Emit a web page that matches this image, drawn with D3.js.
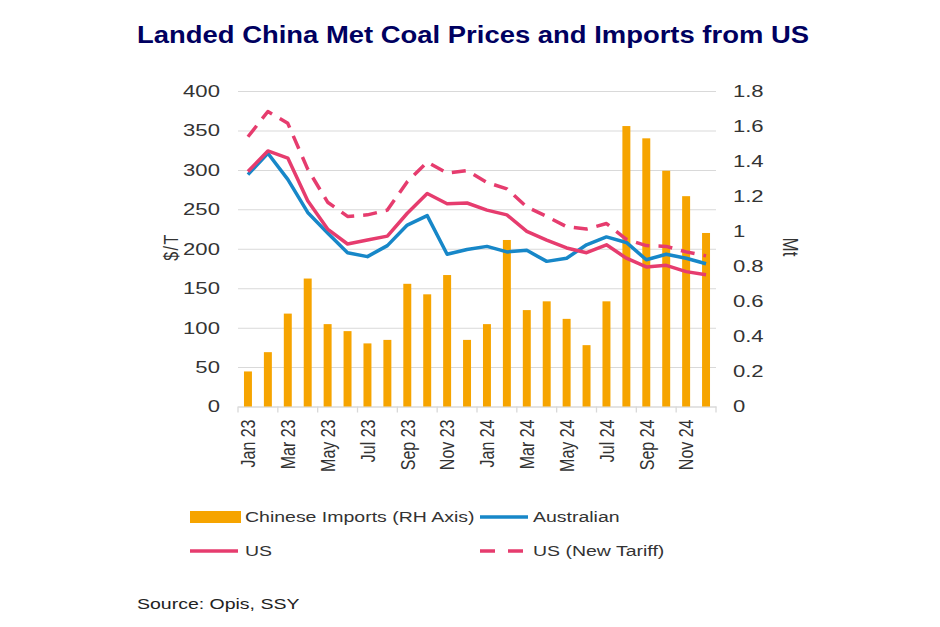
<!DOCTYPE html>
<html>
<head>
<meta charset="utf-8">
<script src="https://cdn.jsdelivr.net/npm/d3@7"></script>
<style>
  body { margin: 0; background: #fff; }
  svg { display: block; font-family: "Liberation Sans", Arial, sans-serif; }
</style>
</head>
<body>
<div id="chart"></div>
<script>
const months = ["Jan 23","Feb 23","Mar 23","Apr 23","May 23","Jun 23","Jul 23","Aug 23","Sep 23","Oct 23","Nov 23","Dec 23",
                "Jan 24","Feb 24","Mar 24","Apr 24","May 24","Jun 24","Jul 24","Aug 24","Sep 24","Oct 24","Nov 24","Dec 24"];
const imports    = [0.20,0.31,0.53,0.73,0.47,0.43,0.36,0.38,0.70,0.64,0.75,0.38,0.47,0.95,0.55,0.60,0.50,0.35,0.60,1.60,1.53,1.345,1.20,0.99];
const australian = [294,321,288,246,220,195,190,204,230,242,193,199,203,196,198,184,188,205,215,208,186,193,188,181];
const usPrice    = [298,324,315,261,225,206,211,216,245,270,257,258,249,243,222,211,201,195,205,188,177,179,171,167];
const usTariff   = [342,374,359,301,259,241,243,249,285,310,296,299,284,276,253,241,228,225,232,212,204,203,196,191];
const leftTicks  = [0,50,100,150,200,250,300,350,400];
const rightTicks = [0,0.2,0.4,0.6,0.8,1,1.2,1.4,1.6,1.8];

const ORANGE = "#f6a400", BLUE = "#1787c8", PINK = "#e63c6e", GRID = "#d9d9d9";

// the source picture is stretched sideways, so draw in a narrower box and stretch it
const SX = 1.3;
const width = 940, height = 627;
const vw = width / SX;

const x0 = 238 / SX, x1 = 716 / SX;
const yBase = 406.5, yTop = 91;

const svg = d3.select("#chart").append("svg")
  .attr("width", width)
  .attr("height", height)
  .attr("viewBox", `0 0 ${vw} ${height}`)
  .attr("preserveAspectRatio", "none");

const x = d3.scaleBand()
  .domain(months)
  .range([x0, x1])
  .paddingInner(0.6)
  .paddingOuter(0.3);

const yL = d3.scaleLinear().domain([0, 400]).range([yBase, yTop]);
const yR = d3.scaleLinear().domain([0, 1.8]).range([yBase, yTop]);

// title
svg.append("text")
  .attr("x", 473 / SX)
  .attr("y", 43)
  .attr("text-anchor", "middle")
  .attr("textLength", 672 / SX)
  .attr("lengthAdjust", "spacingAndGlyphs")
  .style("font-size", "24px")
  .style("font-weight", "bold")
  .style("fill", "#000060")
  .text("Landed China Met Coal Prices and Imports from US");

// left axis + gridlines
svg.append("g")
  .attr("transform", `translate(${x0},0)`)
  .call(d3.axisLeft(yL).tickValues(leftTicks).tickSize(-(x1 - x0)).tickPadding(13.9))
  .attr("font-family", null)
  .attr("font-size", 17)
  .call(g => g.select(".domain").remove())
  .call(g => g.selectAll(".tick line").attr("stroke", GRID))
  .call(g => g.selectAll(".tick text").attr("fill", "#333"));

// right axis
svg.append("g")
  .attr("transform", `translate(${x1},0)`)
  .call(d3.axisRight(yR).tickValues(rightTicks).tickSize(0).tickPadding(13)
    .tickFormat(d => String(+d.toFixed(1))))
  .attr("font-family", null)
  .attr("font-size", 17)
  .call(g => g.select(".domain").remove())
  .call(g => g.selectAll(".tick text").attr("fill", "#333"));

// bottom axis
svg.append("g")
  .attr("transform", `translate(0,${yBase})`)
  .call(d3.axisBottom(x).tickValues(months.filter((d, i) => i % 2 === 0)).tickSize(0).tickPadding(0))
  .attr("font-family", null)
  .attr("font-size", 16)
  .call(g => g.select(".domain").attr("stroke", GRID))
  .call(g => g.selectAll(".tick text")
    .attr("fill", "#333")
    .attr("transform", "rotate(-90)")
    .attr("text-anchor", "end")
    .attr("x", -13)
    .attr("y", 0)
    .attr("dy", "0.35em"));

const edges = months.filter((d, i) => i % 2 === 0)
  .map(d => x(d) + x.bandwidth() / 2 - x.step() / 2)
  .concat([x.range()[1]]);

svg.append("g").selectAll("line")
  .data(edges)
  .enter()
  .append("line")
  .attr("x1", d => d).attr("x2", d => d)
  .attr("y1", yBase).attr("y2", yBase + 6)
  .attr("stroke", GRID)
  .attr("stroke-width", 1.3)
  .attr("vector-effect", "non-scaling-stroke");

// axis titles
svg.append("text")
  .attr("transform", `translate(${171 / SX},247) rotate(-90)`)
  .attr("text-anchor", "middle")
  .attr("dy", "0.35em")
  .style("font-size", "16px")
  .style("letter-spacing", "1.5px")
  .style("fill", "#333")
  .text("$/T");

svg.append("text")
  .attr("transform", `translate(${791 / SX},247) rotate(90)`)
  .attr("text-anchor", "middle")
  .attr("dy", "0.35em")
  .style("font-size", "17px")
  .style("fill", "#333")
  .text("Mt");

// bars (RH axis)
svg.append("g").selectAll("rect")
  .data(imports)
  .enter()
  .append("rect")
  .attr("x", (d, i) => x(months[i]))
  .attr("y", d => yR(d))
  .attr("width", x.bandwidth())
  .attr("height", d => yBase - yR(d))
  .attr("fill", ORANGE);

// lines
const line = d3.line()
  .x((d, i) => x(months[i]) + x.bandwidth() / 2)
  .y(d => yL(d));

const series = [
  { values: australian, color: BLUE, dash: null },
  { values: usPrice, color: PINK, dash: null },
  { values: usTariff, color: PINK, dash: "14,9" }
];

svg.append("g").selectAll("path")
  .data(series)
  .enter()
  .append("path")
  .attr("d", d => line(d.values))
  .attr("fill", "none")
  .attr("stroke", d => d.color)
  .attr("stroke-width", 3.5)
  .attr("stroke-dasharray", d => d.dash)
  .attr("stroke-linejoin", "round")
  .attr("vector-effect", "non-scaling-stroke");

// legend
const legend = svg.append("g").style("font-size", "15px").style("fill", "#333");

legend.append("rect")
  .attr("x", 190 / SX).attr("y", 511)
  .attr("width", 51 / SX).attr("height", 12)
  .attr("fill", ORANGE);

const legendLines = [
  { x: 480 / SX, y: 517, color: BLUE, dash: null },
  { x: 190 / SX, y: 551, color: PINK, dash: null },
  { x: 480 / SX, y: 551, color: PINK, dash: "15,13" }
];

legend.selectAll("line")
  .data(legendLines)
  .enter()
  .append("line")
  .attr("x1", d => d.x).attr("x2", d => d.x + 48 / SX)
  .attr("y1", d => d.y).attr("y2", d => d.y)
  .attr("stroke", d => d.color)
  .attr("stroke-width", 3.5)
  .attr("stroke-dasharray", d => d.dash)
  .attr("vector-effect", "non-scaling-stroke");

const legendText = [
  { x: 245 / SX, y: 517, t: "Chinese Imports (RH Axis)" },
  { x: 533 / SX, y: 517, t: "Australian" },
  { x: 245 / SX, y: 551, t: "US" },
  { x: 533 / SX, y: 551, t: "US (New Tariff)" }
];

legend.selectAll("text")
  .data(legendText)
  .enter()
  .append("text")
  .attr("x", d => d.x)
  .attr("y", d => d.y)
  .attr("dy", "0.35em")
  .text(d => d.t);

// source
svg.append("text")
  .attr("x", 137 / SX)
  .attr("y", 609)
  .style("font-size", "15px")
  .style("fill", "#222")
  .text("Source: Opis, SSY");
</script>
</body>
</html>
